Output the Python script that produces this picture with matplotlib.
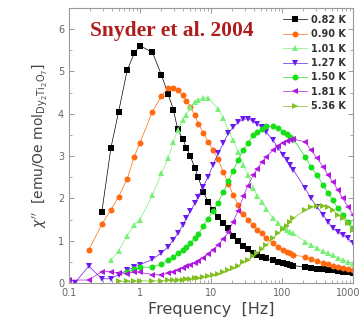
import matplotlib
matplotlib.use("Agg")
import matplotlib.pyplot as plt
import matplotlib.transforms as mtransforms
import numpy as np
from matplotlib.ticker import LogLocator, FixedLocator, NullFormatter, FixedFormatter

# frequency grid [Hz] shared by all series (None = no point measured)
freq = [0.1, 0.12, 0.19, 0.29, 0.39, 0.5, 0.66, 0.83, 1.0, 1.5, 2.0, 2.5, 2.95, 3.4, 4.0, 4.5,
        5.1, 5.9, 6.6, 7.8, 9.1, 10.7, 12.6, 14.9, 17.6, 20.5, 24, 28.6, 33, 39.4, 45, 51.8,
        60, 75, 87, 104, 116, 130, 145, 211, 256, 311, 379, 445, 517, 610, 718, 850, 1000]

t082 = [None, None, None, 1.68, 3.2, 4.05, 5.03, 5.43, 5.61, 5.45, 4.92, 4.46, 4.1, 3.63, 3.4, 3.2,
        3.0, 2.73, 2.5, 2.15, 1.92, 1.73, 1.56, 1.41, 1.29, 1.12, 1.0, 0.88, 0.8, 0.72, 0.67, 0.62,
        0.58, 0.54, 0.5, 0.47, 0.45, 0.43, 0.41, 0.38, 0.36, 0.34, 0.33, 0.31, 0.3, 0.29, 0.27, 0.25, 0.23]
t090 = [None, None, 0.78, 1.39, 1.73, 2.04, 2.46, 2.99, 3.32, 4.05, 4.42, 4.6, 4.6, 4.56, 4.44, 4.31,
        4.17, 3.97, 3.77, 3.55, 3.34, 3.15, 2.92, 2.62, 2.35, 2.08, 1.85, 1.64, 1.5, 1.36, 1.26, 1.17,
        1.07, 0.94, 0.85, 0.78, 0.74, 0.7, 0.66, 0.62, 0.57, 0.52, 0.48, 0.44, 0.41, 0.38, 0.35, 0.32, 0.3]
t101 = [None, None, None, None, 0.54, 0.76, 1.12, 1.37, 1.5, 2.08, 2.59, 2.95, 3.34, 3.62, 3.85, 3.98,
        4.15, 4.27, 4.33, 4.37, 4.38, None, 4.12, 3.9, 3.6, 3.38, 3.1, 2.8, 2.55, 2.25, 2.05, 1.92,
        1.75, 1.53, 1.42, 1.3, 1.25, 1.2, 1.17, 0.98, 0.9, 0.82, 0.75, 0.7, 0.65, 0.6, 0.55, 0.5, 0.46]
t127 = [None, 0.0, 0.4, 0.1, 0.1, 0.2, 0.3, 0.38, 0.43, 0.56, 0.71, 0.86, 1.02, 1.17, 1.37, 1.53,
        1.69, 1.88, 2.04, 2.28, 2.51, 2.79, 3.07, 3.3, 3.55, 3.68, 3.8, 3.87, 3.88, 3.82, 3.75, 3.68,
        3.56, 3.38, 3.2, 3.03, 2.9, 2.79, 2.67, 2.24, 2.0, 1.8, 1.61, 1.45, 1.29, 1.21, 1.13, 1.06, 0.94]
t150 = [None, None, None, None, None, None, 0.25, 0.32, 0.37, 0.38, 0.45, 0.54, 0.62, 0.7, 0.78, 0.86,
        0.94, 1.06, 1.15, 1.35, 1.52, 1.7, 1.9, 2.15, 2.4, 2.65, 2.9, 3.15, 3.3, 3.5, 3.58, 3.65,
        3.7, 3.7, 3.66, 3.58, 3.52, 3.45, 3.4, 2.99, 2.75, 2.55, 2.32, 2.12, 1.96, 1.77, 1.61, 1.45, 1.29]
t181 = [0.07, None, 0.07, 0.27, 0.27, 0.24, 0.22, 0.27, 0.25, 0.2, 0.19, 0.23, 0.27, 0.31, 0.35, 0.39,
        0.43, 0.47, 0.52, 0.6, 0.68, 0.78, 0.9, 1.05, 1.2, 1.45, 1.7, 2.05, 2.3, 2.55, 2.7, 2.85,
        2.98, 3.14, 3.24, 3.31, 3.35, 3.38, 3.4, 3.34, 3.14, 2.95, 2.75, 2.55, 2.39, 2.2, 2.0, 1.8, 1.61]
t536 = [None, None, None, None, None, 0.04, 0.04, 0.04, 0.05, 0.05, 0.05, 0.06, 0.06, 0.07, 0.08, 0.09,
        0.1, 0.11, 0.12, 0.14, 0.16, 0.19, 0.22, 0.26, 0.3, 0.35, 0.41, 0.49, 0.55, 0.64, 0.71, 0.8,
        0.9, 1.06, 1.17, 1.28, 1.35, 1.44, 1.53, 1.73, 1.8, 1.82, 1.83, 1.8, 1.73, 1.61, 1.53, 1.41, 1.25]

labels = ["0.82 K", "0.90 K", "1.01 K", "1.27 K", "1.50 K", "1.81 K", "5.36 K"]
series = [t082, t090, t101, t127, t150, t181, t536]
colors = ["#000000", "#ff6a10", "#78f078", "#6a18f0", "#18e018", "#b018e0", "#80c020"]
markers = ["s", "o", "^", "v", "o", "<", ">"]

fig = plt.figure(figsize=(3.62, 3.28), dpi=100)
ax = fig.add_axes([0.1906, 0.1372, 0.7845, 0.8384])

f = np.array(freq, dtype=float)
for vals, c, m, lab in zip(series, colors, markers, labels):
    y = np.array([np.nan if v is None else v for v in vals], dtype=float)
    ok = ~np.isnan(y)
    ax.plot(f[ok], y[ok], color=c, marker=m, markersize=4.3, markeredgewidth=0,
            linewidth=0.5, label=lab, clip_on=True)

ax.set_xscale("log")
ax.set_xlim(0.1, 1000)
ax.set_ylim(0, 6.5)
ax.xaxis.set_major_locator(FixedLocator([0.1, 1, 10, 100, 1000]))
ax.xaxis.set_major_formatter(FixedFormatter(["0.1", "1", "10", "100", "1000"]))
ax.xaxis.set_minor_locator(LogLocator(base=10, subs=np.arange(2, 10)))
ax.xaxis.set_minor_formatter(NullFormatter())
ax.set_yticks([0, 1, 2, 3, 4, 5, 6])
ax.set_yticks(np.arange(0.5, 6.5, 1.0), minor=True)

ax.tick_params(which="both", direction="in", top=True, right=True, colors="#888888",
               labelcolor="#666666", labelsize=7)
ax.tick_params(which="major", length=3.5, width=0.6)
ax.tick_params(which="minor", length=2, width=0.5)
for s in ax.spines.values():
    s.set_color("#999999")
    s.set_linewidth(0.8)

# keep the last tick label ("1000") inside the figure
fig.canvas.draw()
last = ax.get_xticklabels()[-1]
last.set_transform(last.get_transform() + mtransforms.ScaledTranslation(-5 / 100, 0, fig.dpi_scale_trans))

ax.set_xlabel("Frequency  [Hz]", fontsize=11.5, color="#444444", labelpad=3)
ax.set_ylabel(r"$\chi''$  [emu/Oe mol$_{\mathrm{Dy_2Ti_2O_7}}$]", fontsize=10, color="#444444", labelpad=6)

ax.text(0.074, 0.918, "Snyder et al. 2004", transform=ax.transAxes, ha="left", va="center",
        fontsize=15.5, fontweight="bold", family="Liberation Serif", color="#b01c1c")

leg = ax.legend(loc="upper right", bbox_to_anchor=(1.0, 1.0), frameon=False, fontsize=7,
                handlelength=2.5, handletextpad=0.4, labelspacing=0.45, borderaxespad=0.3)
for t in leg.get_texts():
    t.set_fontweight("bold")
    t.set_color("#333333")

fig.savefig("out.png", dpi=100)
